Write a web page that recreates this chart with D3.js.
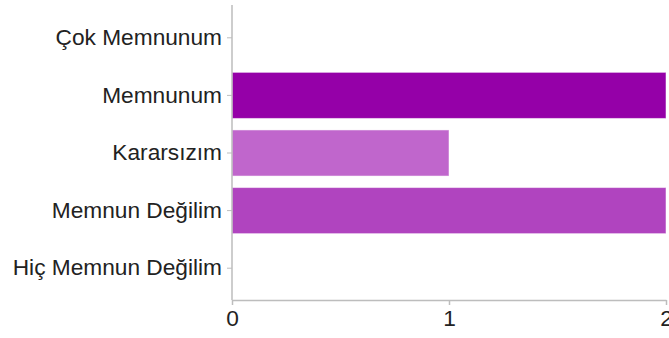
<!DOCTYPE html>
<html><head><meta charset="utf-8">
<script src="https://cdn.jsdelivr.net/npm/d3@7"></script>
<style>body{margin:0;background:#fff}svg{display:block}</style>
</head><body>
<script>
const categories = ["Çok Memnunum", "Memnunum", "Kararsızım", "Memnun Değilim", "Hiç Memnun Değilim"];
const values = [0, 2, 1, 2, 0];
const colors = ["#7a0090", "#9500a8", "#c066cc", "#b044bf", "#d9a6e0"];
const xTicks = [0, 1, 2];

const W = 669, H = 338;
const svg = d3.select("body").append("svg").attr("width", W).attr("height", H);
const x = d3.scaleLinear().domain([0, 2]).range([232, 666]);
const y = d3.scaleBand().domain(categories).range([9, 297]).paddingInner(0.2).paddingOuter(0.1);
const font = "'Liberation Sans', Arial, Helvetica, sans-serif";
const axisColor = "#bdbdbd";

svg.selectAll("rect.bar").data(categories).enter().append("rect")
  .attr("class", "bar")
  .attr("x", x(0))
  .attr("y", d => y(d))
  .attr("width", (d, i) => x(values[i]) - x(0))
  .attr("height", y.bandwidth())
  .attr("fill", (d, i) => colors[i])
  .attr("stroke", "#fff").attr("stroke-opacity", 0.5).attr("stroke-width", 1)
  .style("display", (d, i) => values[i] > 0 ? null : "none");

// y axis
const ya = svg.append("g").attr("transform", `translate(${x(0)},0)`)
  .call(d3.axisLeft(y).tickSize(5).tickPadding(5));
ya.select(".domain").remove();
ya.selectAll(".tick line").attr("stroke", axisColor);
ya.selectAll(".tick text").attr("font-family", font).attr("font-size", 22.7).attr("fill", "#222");
svg.append("line").attr("x1", x(0)).attr("x2", x(0)).attr("y1", 5).attr("y2", 300)
  .attr("stroke", axisColor).attr("stroke-width", 1.5);

// x axis
const xa = svg.append("g").attr("transform", `translate(0,300)`)
  .call(d3.axisBottom(x).tickValues(xTicks).tickFormat(d3.format("d")).tickSize(5).tickPadding(5).tickSizeOuter(0));
xa.select(".domain").attr("stroke", axisColor).attr("stroke-width", 1.5);
xa.selectAll(".tick line").attr("stroke", axisColor).attr("stroke-width", 1.5);
xa.selectAll(".tick text").attr("font-family", font).attr("font-size", 22.7).attr("fill", "#222");
</script>
</body></html>
